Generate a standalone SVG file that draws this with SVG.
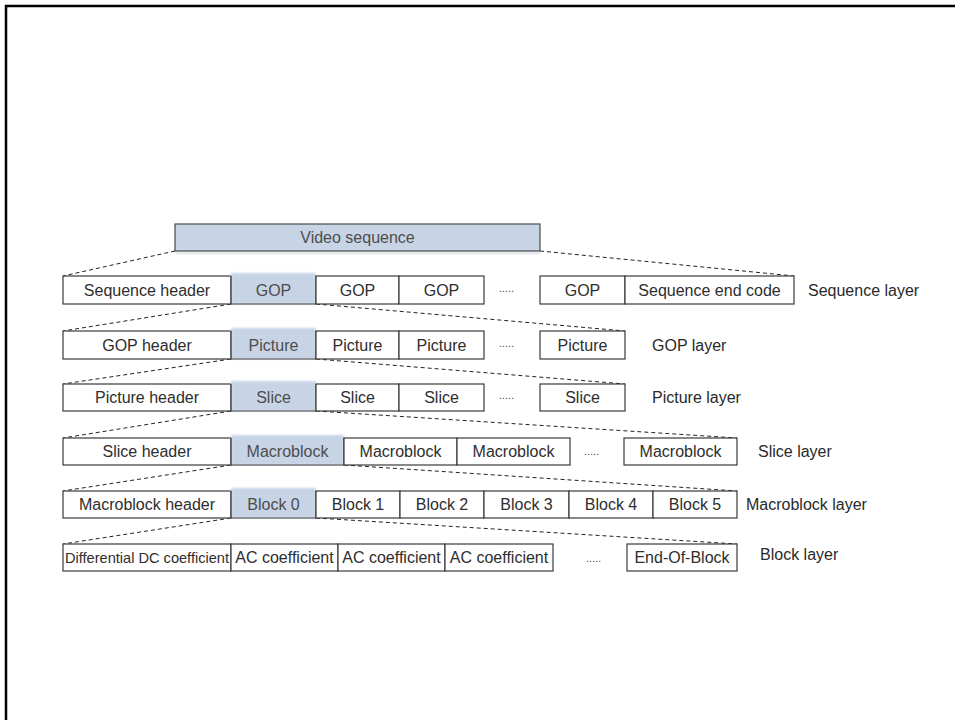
<svg xmlns="http://www.w3.org/2000/svg" width="955" height="720" viewBox="0 0 955 720">
<defs>
<style>
.t{font-family:"Liberation Sans",Arial,sans-serif;font-size:16px;fill:#2e2e2e;text-anchor:middle}
.ts{font-family:"Liberation Sans",Arial,sans-serif;font-size:16px;fill:#4d4d4d;text-anchor:middle}
.lb{font-family:"Liberation Sans",Arial,sans-serif;font-size:16px;fill:#2a2a2a}
.dots{font-family:"Liberation Sans",Arial,sans-serif;font-size:10px;fill:#333;letter-spacing:0.3px}
.cell{fill:#fff;stroke:#3a3a3a;stroke-width:1.2}
.sh{fill:#c7d4e5}
.shb{fill:none;stroke:#3a3a3a;stroke-width:1.2}
.dash{fill:none;stroke:#222;stroke-width:1;stroke-dasharray:4 3}
</style>
<filter id="soft" x="-10%" y="-20%" width="120%" height="140%"><feGaussianBlur stdDeviation="0.9"/></filter>
</defs>
<rect x="0" y="0" width="955" height="720" fill="#fff"/>
<rect x="6" y="6" width="1000" height="800" fill="none" stroke="#000" stroke-width="2.5"/>

<g id="connectors">
<line class="dash" x1="175" y1="251" x2="63" y2="276"/>
<line class="dash" x1="540" y1="251" x2="794" y2="276"/>
<line class="dash" x1="231" y1="304" x2="63" y2="331"/>
<line class="dash" x1="316" y1="304" x2="625" y2="331"/>
<line class="dash" x1="231" y1="359" x2="63" y2="384"/>
<line class="dash" x1="316" y1="359" x2="625" y2="384"/>
<line class="dash" x1="231" y1="411" x2="63" y2="438"/>
<line class="dash" x1="316" y1="411" x2="737" y2="438"/>
<line class="dash" x1="231" y1="465" x2="63" y2="491"/>
<line class="dash" x1="344" y1="465" x2="737" y2="491"/>
<line class="dash" x1="231" y1="518" x2="63" y2="544"/>
<line class="dash" x1="316" y1="518" x2="737" y2="544"/>
</g>

<g id="video-sequence">
<rect x="176" y="252" width="365" height="2" fill="#d8dde4" filter="url(#soft)"/>
<rect x="175" y="224" width="365" height="27" fill="#c7d4e5" stroke="#4a4a4a" stroke-width="1.2"/>
<text class="ts" x="357.5" y="243">Video sequence</text>
</g>

<!-- Row 1: Sequence layer -->
<g id="seq-header"><rect class="cell" x="63" y="276" width="168" height="28"/><text class="t" x="147" y="296">Sequence header</text></g>
<g id="seq-gop-1"><rect class="sh" x="231" y="273" width="85" height="31" filter="url(#soft)"/><path class="shb" d="M231,276 V304 H316 V276"/><text class="ts" x="273.5" y="296">GOP</text></g>
<g id="seq-gop-2"><rect class="cell" x="316" y="276" width="83" height="28"/><text class="t" x="357.5" y="296">GOP</text></g>
<g id="seq-gop-3"><rect class="cell" x="399" y="276" width="85" height="28"/><text class="t" x="441.5" y="296">GOP</text></g>
<g id="seq-dots"><text class="dots" x="499" y="292">.....</text></g>
<g id="seq-gop-n"><rect class="cell" x="540" y="276" width="85" height="28"/><text class="t" x="582.5" y="296">GOP</text></g>
<g id="seq-end"><rect class="cell" x="625" y="276" width="169" height="28"/><text class="t" x="709.5" y="296">Sequence end code</text></g>
<g id="label-seq"><text class="lb" x="808" y="296">Sequence layer</text></g>

<!-- Row 2: GOP layer -->
<g id="gop-header"><rect class="cell" x="63" y="331" width="168" height="28"/><text class="t" x="147" y="351">GOP header</text></g>
<g id="gop-pic-1"><rect class="sh" x="231" y="328" width="85" height="31" filter="url(#soft)"/><path class="shb" d="M231,331 V359 H316 V331"/><text class="ts" x="273.5" y="351">Picture</text></g>
<g id="gop-pic-2"><rect class="cell" x="316" y="331" width="83" height="28"/><text class="t" x="357.5" y="351">Picture</text></g>
<g id="gop-pic-3"><rect class="cell" x="399" y="331" width="85" height="28"/><text class="t" x="441.5" y="351">Picture</text></g>
<g id="gop-dots"><text class="dots" x="499" y="347">.....</text></g>
<g id="gop-pic-n"><rect class="cell" x="540" y="331" width="85" height="28"/><text class="t" x="582.5" y="351">Picture</text></g>
<g id="label-gop"><text class="lb" x="652" y="351">GOP layer</text></g>

<!-- Row 3: Picture layer -->
<g id="pic-header"><rect class="cell" x="63" y="384" width="168" height="27"/><text class="t" x="147" y="403">Picture header</text></g>
<g id="pic-slice-1"><rect class="sh" x="231" y="381" width="85" height="30" filter="url(#soft)"/><path class="shb" d="M231,384 V411 H316 V384"/><text class="ts" x="273.5" y="403">Slice</text></g>
<g id="pic-slice-2"><rect class="cell" x="316" y="384" width="83" height="27"/><text class="t" x="357.5" y="403">Slice</text></g>
<g id="pic-slice-3"><rect class="cell" x="399" y="384" width="85" height="27"/><text class="t" x="441.5" y="403">Slice</text></g>
<g id="pic-dots"><text class="dots" x="499" y="399">.....</text></g>
<g id="pic-slice-n"><rect class="cell" x="540" y="384" width="85" height="27"/><text class="t" x="582.5" y="403">Slice</text></g>
<g id="label-pic"><text class="lb" x="652" y="403">Picture layer</text></g>

<!-- Row 4: Slice layer -->
<g id="slice-header"><rect class="cell" x="63" y="438" width="168" height="27"/><text class="t" x="147" y="457">Slice header</text></g>
<g id="slice-mb-1"><rect class="sh" x="231" y="435" width="113" height="30" filter="url(#soft)"/><path class="shb" d="M231,438 V465 H344 V438"/><text class="ts" x="287.5" y="457">Macroblock</text></g>
<g id="slice-mb-2"><rect class="cell" x="344" y="438" width="113" height="27"/><text class="t" x="400.5" y="457">Macroblock</text></g>
<g id="slice-mb-3"><rect class="cell" x="457" y="438" width="113" height="27"/><text class="t" x="513.5" y="457">Macroblock</text></g>
<g id="slice-dots"><text class="dots" x="584" y="455">.....</text></g>
<g id="slice-mb-n"><rect class="cell" x="624" y="438" width="113" height="27"/><text class="t" x="680.5" y="457">Macroblock</text></g>
<g id="label-slice"><text class="lb" x="758" y="457">Slice layer</text></g>

<!-- Row 5: Macroblock layer -->
<g id="mb-header"><rect class="cell" x="63" y="491" width="168" height="27"/><text class="t" x="147" y="510">Macroblock header</text></g>
<g id="mb-block-0"><rect class="sh" x="231" y="488" width="85" height="30" filter="url(#soft)"/><path class="shb" d="M231,491 V518 H316 V491"/><text class="ts" x="273.5" y="510">Block 0</text></g>
<g id="mb-block-1"><rect class="cell" x="316" y="491" width="84" height="27"/><text class="t" x="358" y="510">Block 1</text></g>
<g id="mb-block-2"><rect class="cell" x="400" y="491" width="84" height="27"/><text class="t" x="442" y="510">Block 2</text></g>
<g id="mb-block-3"><rect class="cell" x="484" y="491" width="85" height="27"/><text class="t" x="526.5" y="510">Block 3</text></g>
<g id="mb-block-4"><rect class="cell" x="569" y="491" width="84" height="27"/><text class="t" x="611" y="510">Block 4</text></g>
<g id="mb-block-5"><rect class="cell" x="653" y="491" width="84" height="27"/><text class="t" x="695" y="510">Block 5</text></g>
<g id="label-mb"><text class="lb" x="746" y="510">Macroblock layer</text></g>

<!-- Row 6: Block layer -->
<g id="blk-dc"><rect class="cell" x="63" y="544" width="168" height="27"/><text class="t" x="147" y="563" style="font-size:14.5px" textLength="164" lengthAdjust="spacingAndGlyphs">Differential DC coefficient</text></g>
<g id="blk-ac-1"><rect class="cell" x="231" y="544" width="107" height="27"/><text class="t" x="284.5" y="563">AC coefficient</text></g>
<g id="blk-ac-2"><rect class="cell" x="338" y="544" width="107" height="27"/><text class="t" x="391.5" y="563">AC coefficient</text></g>
<g id="blk-ac-3"><rect class="cell" x="445" y="544" width="108" height="27"/><text class="t" x="499" y="563">AC coefficient</text></g>
<g id="blk-dots"><text class="dots" x="586" y="562">.....</text></g>
<g id="blk-eob"><rect class="cell" x="627" y="544" width="110" height="27"/><text class="t" x="682" y="563">End-Of-Block</text></g>
<g id="label-blk"><text class="lb" x="760" y="560">Block layer</text></g>
</svg>
